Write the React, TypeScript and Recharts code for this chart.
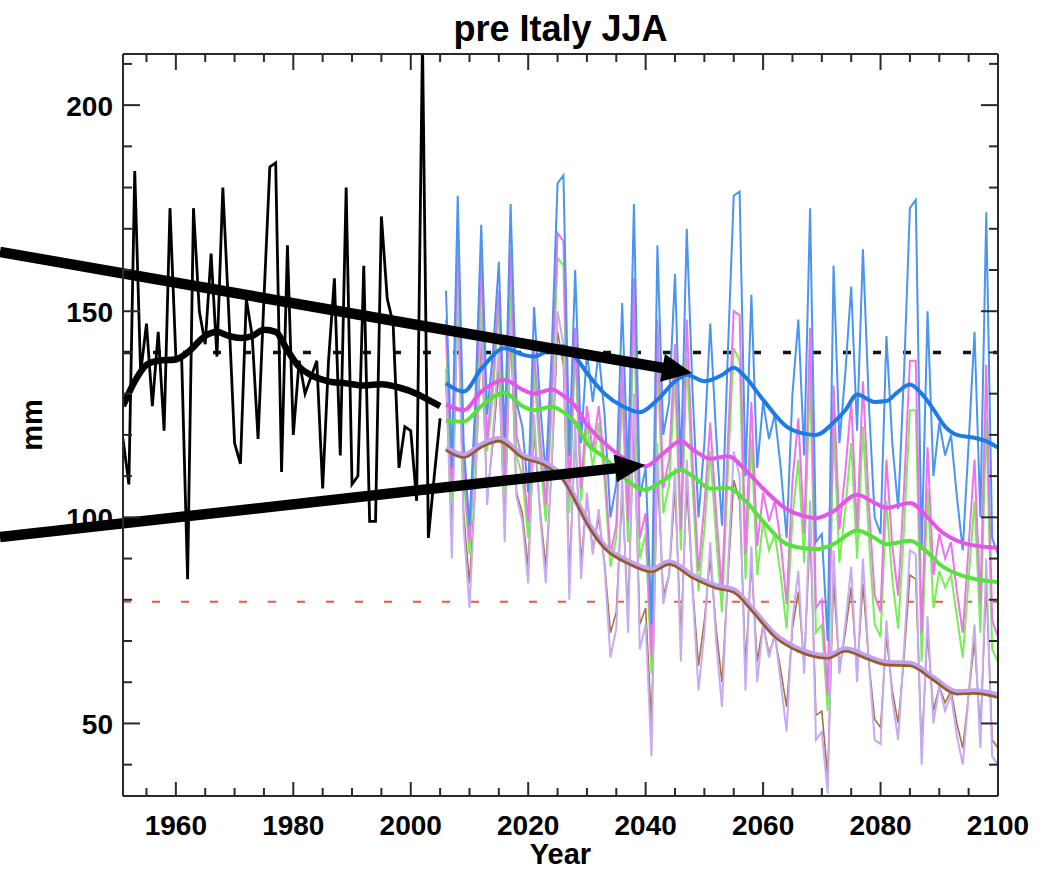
import { LineChart, Line, XAxis, YAxis, ReferenceLine } from "recharts";

// observed JJA precipitation, 1951-2005
const obsStart = 1951;
const obsValues = [
  119, 108, 184, 135, 147, 127, 145, 121, 175, 139,
  138, 85, 175, 150, 142, 164, 139, 180, 150, 118,
  113, 153, 144, 119, 153, 185, 186, 111, 166, 120,
  138, 130, 134, 138, 107, 138, 158, 115, 180, 108,
  110, 161, 99, 99, 173, 153, 147, 112, 122, 121,
  104, 216, 95, 110, 124,
];

// scenario runs, 2006-2100
const futStart = 2006;
const blueValues = [
  155, 112, 178, 118, 98, 128, 171, 125, 140, 162,
  118, 176, 128, 122, 106, 151, 128, 110, 140, 181,
  183, 115, 160, 118, 140, 128, 140, 125, 100, 108,
  152, 110, 176, 105, 112, 74, 166, 120, 128, 159,
  112, 170, 130, 100, 118, 147, 120, 98, 140, 178,
  179, 110, 154, 112, 128, 119, 125, 112, 95, 130,
  148, 115, 175, 94, 96, 70, 161, 118, 135, 156,
  121, 165, 128, 100, 96, 144, 118, 102, 135, 175,
  177, 92, 150, 110, 123, 115, 120, 105, 92, 118,
  145, 100, 174, 95, 91,
];
const magentaValues = [
  148, 107, 170, 113, 94, 122, 163, 119, 134, 155,
  110, 165, 120, 114, 99, 141, 120, 103, 131, 169,
  167, 105, 146, 107, 127, 116, 127, 113, 91, 98,
  137, 99, 158, 95, 101, 66, 148, 107, 114, 142,
  97, 148, 113, 87, 103, 123, 101, 82, 118, 150,
  149, 91, 128, 93, 106, 99, 104, 94, 79, 109,
  124, 96, 146, 78, 80, 57, 132, 97, 111, 128,
  97, 133, 103, 81, 77, 114, 93, 81, 107, 138,
  138, 72, 117, 86, 96, 90, 94, 82, 72, 93,
  114, 79, 137, 75, 71,
];
const greenValues = [
  144, 104, 166, 110, 91, 119, 159, 116, 130, 151,
  106, 158, 115, 110, 95, 136, 115, 99, 126, 163,
  161, 101, 141, 104, 123, 112, 123, 109, 88, 95,
  130, 94, 150, 90, 96, 62, 139, 101, 108, 134,
  92, 139, 107, 82, 97, 116, 95, 77, 111, 141,
  138, 85, 119, 86, 99, 92, 96, 86, 73, 100,
  114, 89, 135, 72, 74, 53, 122, 89, 102, 118,
  90, 122, 95, 74, 71, 104, 85, 73, 97, 126,
  126, 65, 107, 78, 87, 83, 86, 76, 66, 85,
  104, 72, 124, 68, 65,
];
const brownValues = [
  133, 96, 153, 101, 84, 108, 144, 105, 118, 136,
  98, 146, 106, 101, 88, 121, 102, 88, 112, 145,
  137, 86, 120, 89, 105, 92, 100, 89, 72, 77,
  106, 77, 123, 74, 78, 50, 112, 81, 86, 107,
  71, 108, 83, 64, 75, 90, 73, 60, 85, 109,
  104, 64, 89, 65, 74, 67, 71, 63, 54, 73,
  82, 64, 97, 52, 53, 37, 85, 63, 72, 83,
  62, 84, 65, 51, 49, 71, 58, 50, 66, 86,
  85, 44, 72, 53, 59, 55, 58, 50, 44, 57,
  70, 48, 84, 46, 44,
];
const lavenderValues = [
  136, 90, 158, 98, 78, 108, 150, 103, 120, 141,
  94, 152, 105, 99, 84, 125, 101, 84, 113, 150,
  142, 80, 123, 85, 106, 91, 102, 88, 66, 73,
  110, 72, 130, 68, 74, 42, 118, 79, 86, 112,
  65, 114, 82, 58, 72, 94, 70, 54, 87, 116,
  110, 58, 93, 60, 74, 66, 72, 60, 48, 75,
  87, 62, 104, 46, 48, 33, 92, 62, 74, 88,
  60, 90, 65, 46, 45, 75, 56, 46, 68, 92,
  91, 40, 76, 50, 59, 53, 57, 47, 40, 57,
  74, 44, 90, 42, 40,
];

// smoothed curves, read at a few years each: [year, mm]
const obsSmooth: [number, number][] = [
  [1951, 127], [1953, 133], [1955, 137], [1957, 138], [1960, 138.3], [1962, 140],
  [1965, 144], [1967, 145], [1969, 144], [1971, 143.5], [1973, 144], [1975, 145.5],
  [1977, 145], [1979, 140.5], [1981, 136.5], [1983, 134.5], [1986, 133], [1989, 132.5],
  [1992, 132], [1995, 132.3], [1998, 131.5], [2001, 130], [2003, 128.5], [2005, 127],
];
const blueSmooth: [number, number][] = [
  [2006, 132.5], [2009, 130.5], [2012, 136], [2016, 141], [2019, 139.5], [2021, 139],
  [2024, 141], [2026, 141.5], [2028, 139], [2030, 135], [2033, 130], [2036, 127],
  [2039, 125.5], [2042, 128.5], [2045, 133], [2047, 134.6], [2050, 133], [2053, 134.5],
  [2055, 136.3], [2057, 134], [2060, 128.5], [2064, 122], [2067, 120.3], [2069, 120],
  [2072, 123], [2074, 126], [2076, 129.8], [2079, 128], [2081, 128.2], [2083, 130.5],
  [2085, 132.2], [2087, 130], [2089, 126.2], [2091, 122], [2093, 120], [2096, 119.3],
  [2098, 118.5], [2100, 116.9],
];
const magentaSmooth: [number, number][] = [
  [2006, 127.4], [2009, 126], [2012, 130.5], [2016, 133.3], [2019, 131], [2021, 130],
  [2024, 131], [2026, 129.5], [2028, 127], [2030, 122.5], [2033, 118], [2036, 114.6],
  [2040, 112.4], [2043, 115.5], [2046, 118.5], [2048, 116.5], [2051, 114.2], [2054, 114.8],
  [2057, 111.5], [2060, 107], [2064, 102], [2067, 100.3], [2069, 99.8], [2072, 101.5],
  [2076, 105.5], [2079, 103.5], [2081, 102.3], [2085, 103.5], [2088, 100], [2090, 97],
  [2094, 93.8], [2097, 93], [2100, 92.6],
];
const greenSmooth: [number, number][] = [
  [2006, 123.4], [2009, 123.2], [2012, 127], [2016, 130.2], [2019, 127], [2021, 126],
  [2024, 126.8], [2026, 125.5], [2028, 123], [2030, 118], [2033, 114.5], [2036, 110],
  [2040, 106.7], [2043, 109], [2046, 111.5], [2048, 110], [2051, 107], [2054, 107.1],
  [2057, 104], [2060, 99], [2064, 93.5], [2067, 92.5], [2069, 92.3], [2072, 93.5],
  [2076, 96.8], [2079, 95], [2081, 93.5], [2085, 94.3], [2088, 91.5], [2090, 88.7],
  [2094, 85.8], [2097, 84.8], [2100, 84.3],
];
const brownSmooth: [number, number][] = [
  [2006, 116.3], [2009, 114.5], [2012, 117], [2015, 118.5], [2019, 114.5], [2023, 112.5],
  [2026, 109], [2028, 104], [2030, 98.5], [2033, 92.5], [2037, 88.8], [2041, 86.8],
  [2044, 88.6], [2048, 85.3], [2052, 82.8], [2055, 81.8], [2058, 77.5], [2062, 71],
  [2066, 67.5], [2071, 65.8], [2074, 67.5], [2078, 65.5], [2081, 64.2], [2085, 64],
  [2089, 60.5], [2093, 57.1], [2096, 57.3], [2100, 56.3],
];
const lavenderSmooth: [number, number][] = [
  [2006, 116.8], [2009, 115], [2012, 117.5], [2015, 119], [2019, 115], [2023, 113],
  [2026, 109.5], [2028, 104.5], [2030, 99], [2033, 93], [2037, 89.3], [2041, 87.3],
  [2044, 89.1], [2048, 85.8], [2052, 83.3], [2055, 82.3], [2058, 78], [2062, 71.5],
  [2066, 68], [2071, 66.3], [2074, 68], [2078, 66], [2081, 64.7], [2085, 64.5],
  [2089, 61], [2093, 57.6], [2096, 57.8], [2100, 56.8],
];

// reference levels and the two annotation arrows (data coordinates)
const upperLevel = 140;
const lowerLevel = 79.5;
const arrowUpper = [{ x: 1930.05, y: 164.4 }, { x: 2047.9, y: 135.0 }];
const arrowLower = [{ x: 1930.05, y: 95.2 }, { x: 2039.9, y: 112.7 }];

const xTicks = [
  1955, 1960, 1965, 1970, 1975, 1980, 1985, 1990, 1995, 2000, 2005, 2010, 2015,
  2020, 2025, 2030, 2035, 2040, 2045, 2050, 2055, 2060, 2065, 2070, 2075, 2080,
  2085, 2090, 2095, 2100,
];
const xLabels = [1960, 1980, 2000, 2020, 2040, 2060, 2080, 2100];
const yTicks = [40, 50, 60, 70, 80, 90, 100, 110, 120, 130, 140, 150, 160, 170, 180, 190, 200, 210];
const yLabels = [50, 100, 150, 200];

const firstYear = 1951;
const lastYear = 2100;

type Row = { year: number; [key: string]: number | undefined };
const rows: Row[] = [];
for (let yr = firstYear; yr <= lastYear; yr++) rows.push({ year: yr });
const putSeries = (key: string, start: number, values: number[]) =>
  values.forEach((v, i) => {
    rows[start - firstYear + i][key] = v;
  });
const putPairs = (key: string, pairs: [number, number][]) =>
  pairs.forEach(([yr, v]) => {
    rows[yr - firstYear][key] = v;
  });
putSeries("obs", obsStart, obsValues);
putSeries("blue", futStart, blueValues);
putSeries("magenta", futStart, magentaValues);
putSeries("green", futStart, greenValues);
putSeries("brown", futStart, brownValues);
putSeries("lavender", futStart, lavenderValues);
putPairs("obsS", obsSmooth);
putPairs("blueS", blueSmooth);
putPairs("magentaS", magentaSmooth);
putPairs("greenS", greenSmooth);
putPairs("brownS", brownSmooth);
putPairs("lavenderS", lavenderSmooth);

const FONT = "'Liberation Sans', Arial, Helvetica, sans-serif";
const AXIS = "#2a2a2a";

// IDL-style ticks: drawn inward from the frame
function makeTick(side: "bottom" | "top" | "left" | "right") {
  return (p: any) => {
    const { x, y, payload } = p;
    const v = payload.value;
    const labelled = side === "bottom" || side === "top" ? xLabels.includes(v) : yLabels.includes(v);
    let line;
    if (side === "bottom") line = { x1: x, y1: y, x2: x, y2: y - (labelled ? 14 : 8) };
    else if (side === "top") line = { x1: x, y1: y, x2: x, y2: y + (labelled ? 16 : 8) };
    else if (side === "left") line = { x1: x, y1: y, x2: x + (labelled ? 17 : 9), y2: y };
    else line = { x1: x, y1: y, x2: x - (labelled ? 17 : 9), y2: y };
    return (
      <g>
        <line {...line} stroke={AXIS} strokeWidth={2} />
        {labelled && side === "bottom" && (
          <text x={x} y={y + 39} textAnchor="middle" fontSize={28} fontWeight="bold" fontFamily={FONT} fill="#000">
            {v}
          </text>
        )}
        {labelled && side === "left" && (
          <text x={x - 10} y={y + 11} textAnchor="end" fontSize={28} fontWeight="bold" fontFamily={FONT} fill="#000">
            {v}
          </text>
        )}
      </g>
    );
  };
}

// thick annotation arrow
const ArrowShape = (p: any) => {
  const { x1, y1, x2, y2 } = p;
  const dx = x2 - x1;
  const dy = y2 - y1;
  const len = Math.hypot(dx, dy);
  const ux = dx / len;
  const uy = dy / len;
  const headLen = 30;
  const headHalf = 14;
  const bx = x2 - ux * headLen;
  const by = y2 - uy * headLen;
  const pts = `${x2},${y2} ${bx - uy * headHalf},${by + ux * headHalf} ${bx + uy * headHalf},${by - ux * headHalf}`;
  return (
    <g>
      <line x1={x1} y1={y1} x2={bx + ux * 2} y2={by + uy * 2} stroke="#000" strokeWidth={10.5} />
      <polygon points={pts} fill="#000" />
    </g>
  );
};

const mmLabel = (p: any) => {
  const vb = p.viewBox || { x: 0, y: 54, width: 123, height: 742 };
  const cx = vb.x + 32;
  const cy = vb.y + vb.height / 2;
  return (
    <text
      x={cx}
      y={cy}
      transform={`rotate(-90 ${cx} ${cy})`}
      textAnchor="middle"
      dominantBaseline="central"
      fontSize={29}
      fontWeight="bold"
      fontFamily={FONT}
      fill="#000"
    >
      mm
    </text>
  );
};

export default function App() {
  const thin = { dot: false, activeDot: false, isAnimationActive: false, type: "linear" as const };
  const smooth = { dot: false, activeDot: false, isAnimationActive: false, type: "monotone" as const, connectNulls: true };

  return (
    <div style={{ position: "absolute", left: 0, top: 0, width: 1039, height: 869, background: "#fff" }}>
      <LineChart width={1039} height={869} data={rows} margin={{ top: 53, right: 40, bottom: 0, left: 0 }}>
        <XAxis
          dataKey="year"
          type="number"
          domain={[firstYear, lastYear]}
          allowDataOverflow
          ticks={xTicks}
          interval={0}
          tickSize={0}
          tickMargin={0}
          tickLine={false}
          axisLine={{ stroke: AXIS, strokeWidth: 2 }}
          tick={makeTick("bottom")}
          height={73}
          label={{ value: "Year", position: "insideBottom", offset: 5, fontSize: 29, fontWeight: "bold", fontFamily: FONT, fill: "#000" }}
        />
        <XAxis
          xAxisId="top"
          orientation="top"
          dataKey="year"
          type="number"
          domain={[firstYear, lastYear]}
          allowDataOverflow
          ticks={xTicks}
          interval={0}
          tickSize={0}
          tickMargin={0}
          tickLine={false}
          axisLine={{ stroke: AXIS, strokeWidth: 2 }}
          tick={makeTick("top")}
          height={1}
          label={{ value: "pre Italy JJA", position: "top", offset: 12, fontSize: 36, fontWeight: "bold", fontFamily: FONT, fill: "#000" }}
        />
        <YAxis
          type="number"
          domain={[32.4, 212.4]}
          allowDataOverflow
          ticks={yTicks}
          interval={0}
          tickSize={0}
          tickMargin={0}
          tickLine={false}
          axisLine={{ stroke: AXIS, strokeWidth: 2 }}
          tick={makeTick("left")}
          width={123}
          label={mmLabel}
        />
        <YAxis
          yAxisId="right"
          orientation="right"
          type="number"
          domain={[32.4, 212.4]}
          allowDataOverflow
          ticks={yTicks}
          interval={0}
          tickSize={0}
          tickMargin={0}
          tickLine={false}
          axisLine={{ stroke: AXIS, strokeWidth: 2 }}
          tick={makeTick("right")}
          width={1}
        />

        <ReferenceLine y={lowerLevel} stroke="#ee5542" strokeWidth={2} strokeDasharray="8 21" />
        <ReferenceLine y={upperLevel} stroke="#111" strokeWidth={3.5} strokeDasharray="8 22" />

        {/* yearly values */}
        <Line {...thin} dataKey="brown" stroke="#a8703c" strokeWidth={1.6} />
        <Line {...thin} dataKey="lavender" stroke="#c6aaf2" strokeWidth={2} />
        <Line {...thin} dataKey="green" stroke="#78ee55" strokeWidth={2} />
        <Line {...thin} dataKey="magenta" stroke="#ee72ee" strokeWidth={2} />
        <Line {...thin} dataKey="blue" stroke="#4b94f2" strokeWidth={2} />

        {/* smoothed curves */}
        <Line {...smooth} dataKey="lavenderS" stroke="#bfa3f0" strokeWidth={6} />
        <Line {...smooth} dataKey="brownS" stroke="#9a5a26" strokeWidth={2.6} />
        <Line {...smooth} dataKey="greenS" stroke="#55e23a" strokeWidth={4} />
        <Line {...smooth} dataKey="magentaS" stroke="#e456ea" strokeWidth={4} />
        <Line {...smooth} dataKey="blueS" stroke="#1f7ae6" strokeWidth={4} />

        <Line {...thin} dataKey="obs" stroke="#000" strokeWidth={2.8} />
        <Line {...smooth} dataKey="obsS" stroke="#000" strokeWidth={6.5} />

        <ReferenceLine segment={arrowUpper} ifOverflow="visible" shape={ArrowShape} />
        <ReferenceLine segment={arrowLower} ifOverflow="visible" shape={ArrowShape} />
      </LineChart>
    </div>
  );
}
